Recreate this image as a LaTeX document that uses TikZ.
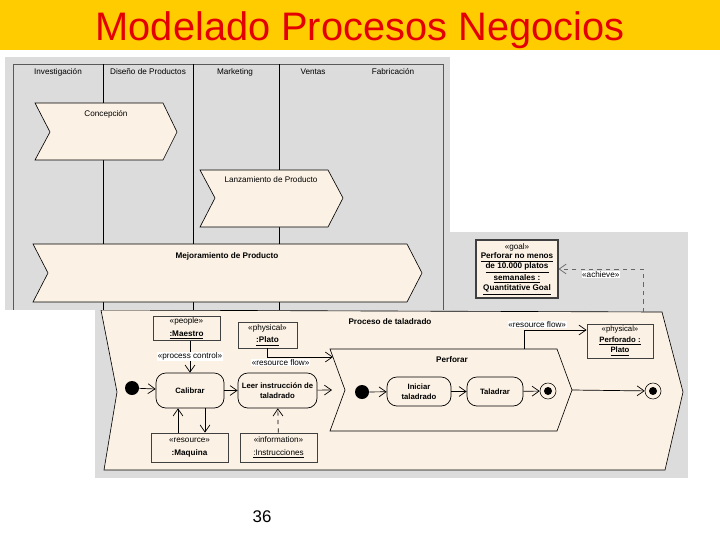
\documentclass[tikz,border=0pt]{standalone}
\usepackage{fontspec}
\setmainfont{Liberation Sans}
\usepackage{tikz}
\usetikzlibrary{arrows.meta}

\definecolor{barYellow}{RGB}{255,204,0}
\definecolor{titleRed}{RGB}{228,0,0}
\definecolor{paneGray}{RGB}{220,220,220}
\definecolor{paneBeige}{RGB}{251,241,228}

\tikzset{
	txt/.style={font=\fontsize{5.8}{7}\selectfont, inner sep=0.5pt},
	btxt/.style={font=\fontsize{5.8}{7}\selectfont\bfseries, inner sep=0.5pt},
	proc/.style={draw, fill=paneBeige, line width=0.45pt},
	actnode/.style={draw, fill=paneBeige, rounded corners=7pt, line width=0.5pt, align=center,
		font=\fontsize{5.5}{7.5}\selectfont\bfseries, inner sep=1pt},
	objnode/.style={draw=black!75, fill=paneBeige, line width=0.6pt, align=center, inner sep=1pt},
	initnode/.style={circle, fill=black, minimum size=0.35cm, inner sep=0pt},
	finalnode/.style={circle, draw, fill=paneBeige, minimum size=0.4cm, inner sep=0pt},
	dotnode/.style={circle, fill=black, minimum size=0.2cm, inner sep=0pt},
	flow/.style={-{Straight Barb[length=5pt, width=7pt]}, line width=0.5pt},
}

\begin{document}
\begin{tikzpicture}[x=0.025cm, y=-0.025cm]
	\useasboundingbox (0,0) rectangle (720,540);
	\fill[barYellow] (0,0) rectangle (720,50);
	\node[font=\fontsize{28.3}{30}\selectfont, text=titleRed, anchor=base, inner sep=0pt] (title) at (360,40) {Modelado Procesos Negocios};

	\fill[paneGray] (95,232) rectangle (688,478);
	\draw[proc] (101,310) -- (662,312) -- (683,392) -- (665,470) -- (104,470) -- (117,392) -- cycle;
	\node[btxt] (procTitle) at (390,322) {Proceso de taladrado};

	\node[objnode, minimum width=2.05cm, minimum height=1.45cm, line width=0.8pt, font=\fontsize{5.8}{7}\selectfont] (goal) at (517,269)
		{«goal»\\\underline{\textbf{Perforar no menos}}\\\underline{\textbf{de 10.000 platos}}\\\underline{\textbf{semanales :}}\\\underline{\textbf{Quantitative Goal}}};
	\coordinate (panelTop) at (643,312);
	\draw[flow, dashed, black!60] (panelTop) |- node[pos=0.75, below=1pt, txt, fill=white, text=black] {«achieve»} (goal.east);

	\node[objnode, minimum width=1.675cm, minimum height=0.575cm, font=\fontsize{5.8}{9}\selectfont] (maestro) at (186.5,328.5)
		{«people»\\\underline{\textbf{:Maestro}}};
	\node[objnode, minimum width=1.475cm, minimum height=0.65cm, font=\fontsize{5.8}{9}\selectfont] (plato) at (267.5,335)
		{«physical»\\\underline{\textbf{:Plato}}};
	\node[objnode, minimum width=1.65cm, minimum height=0.85cm, font=\fontsize{5.5}{7.5}\selectfont] (perforado) at (620,341)
		{«physical»\\\underline{\textbf{Perforado :}}\\\underline{\textbf{Plato}}};
	\node[objnode, minimum width=1.925cm, minimum height=0.725cm, font=\fontsize{5.8}{9}\selectfont] (maquina) at (189.5,447.5)
		{«resource»\\\textbf{:Maquina}};
	\node[objnode, minimum width=1.925cm, minimum height=0.725cm, font=\fontsize{5.8}{9}\selectfont] (instr) at (278.5,447.5)
		{«information»\\\underline{:Instrucciones}};

	\node[initnode] (init1) at (132,388) {};
	\node[actnode, minimum width=1.7cm, minimum height=0.875cm] (calibrar) at (190,390.5) {Calibrar};
	\node[actnode, minimum width=1.975cm, minimum height=0.875cm] (leer) at (277.5,390.5) {Leer instrucción de\\taladrado};

	\draw[proc] (330,349) -- (557,349) -- (572,390) -- (557,431) -- (330,431) -- (345,390) -- cycle;
	\node[btxt] (perfTitle) at (452,360) {Perforar};
	\coordinate (perfIn) at (332,390);
	\coordinate (perfRes) at (333,357);
	\coordinate (perfTop) at (524,349);
	\coordinate (perfOut) at (572,390);

	\node[initnode] (init2) at (362,392) {};
	\node[actnode, minimum width=1.6cm, minimum height=0.725cm] (iniciar) at (419,391.5) {Iniciar\\taladrado};
	\node[actnode, minimum width=1.4cm, minimum height=0.725cm] (taladrar) at (495,391.5) {Taladrar};
	\node[finalnode] (final1) at (548,391) {};
	\node[dotnode] (final1dot) at (final1) {};
	\node[finalnode] (final2) at (653,391) {};
	\node[dotnode] (final2dot) at (final2) {};

	\draw[flow] (init1) -- (calibrar);
	\draw[flow] (calibrar) -- (leer);
	\draw[flow] (leer) -- (perfIn);
	\draw[flow] (maestro.south -| calibrar.north) -- node[txt, fill=white] {«process control»} (calibrar.north);
	\draw[flow] ([xshift=-0.3cm]calibrar.south |- maquina.north) -- ([xshift=-0.3cm]calibrar.south);
	\draw[flow] ([xshift=0.375cm]calibrar.south) -- ([xshift=0.375cm]calibrar.south |- maquina.north);
	\draw[flow, dashed] (instr) -- (leer);
	\draw[flow] (plato.south) |- node[pos=0.6, below=1pt, txt, fill=white] {«resource flow»} (perfRes);
	\draw[flow] (perfTop) |- node[pos=0.5, above=1pt, xshift=0.33cm, txt, fill=white] {«resource flow»} ([yshift=0.275cm]perforado.west);
	\draw[flow] (init2) -- (iniciar);
	\draw[flow] (iniciar) -- (taladrar);
	\draw[flow] (taladrar) -- (final1);
	\draw[flow] (perfOut) -- (final2);

	\fill[paneGray] (5,57) rectangle (450,310);
	\draw[black!65] (13,310) -- (13,64) -- (443,64) -- (443,310);
	\foreach \x in {103,193,279}
		\draw[line width=0.5pt] (\x,64) -- (\x,310);
	\node[txt] (hInv) at (58,72) {Investigación};
	\node[txt] (hDis) at (148,72) {Diseño de Productos};
	\node[txt] (hMkt) at (235,72) {Marketing};
	\node[txt] (hVen) at (313,72) {Ventas};
	\node[txt] (hFab) at (393,72) {Fabricación};

	\draw[proc] (35,103) -- (163,103) -- (177,132) -- (163,160) -- (35,160) -- (50,132) -- cycle;
	\node[txt] (concepcion) at (106,114) {Concepción};
	\draw[proc] (200,170) -- (328,170) -- (343,198) -- (328,227) -- (200,227) -- (215,198) -- cycle;
	\node[txt] (lanzamiento) at (271,180) {Lanzamiento de Producto};
	\draw[proc] (33,244) -- (407,244) -- (422,273) -- (407,302) -- (33,302) -- (48,273) -- cycle;
	\node[btxt] (mejoramiento) at (227,256) {Mejoramiento de Producto};

	\node[font=\fontsize{12}{14}\selectfont, anchor=base, inner sep=0pt] (pageNum) at (262,522) {36};
\end{tikzpicture}
\end{document}
